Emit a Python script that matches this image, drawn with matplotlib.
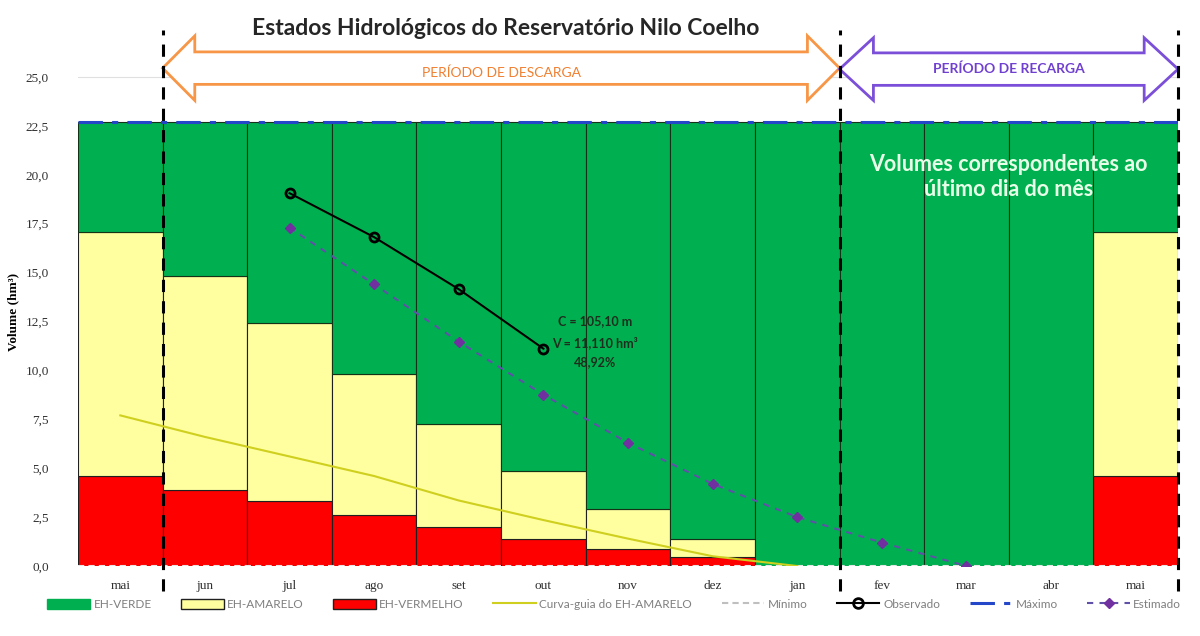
import matplotlib
matplotlib.use("Agg")
import matplotlib.pyplot as plt
from matplotlib.patches import Polygon, Patch
from matplotlib.lines import Line2D
from matplotlib.ticker import FuncFormatter
import numpy as np

# dados
meses = ["mai", "jun", "jul", "ago", "set", "out", "nov", "dez", "jan", "fev", "mar", "abr", "mai"]
limite_vermelho = [4.6, 3.9, 3.3, 2.6, 2.0, 1.4, 0.87, 0.45, 0, 0, 0, 0, 4.6]
limite_amarelo = [17.05, 14.85, 12.4, 9.8, 7.24, 4.88, 2.93, 1.38, 0, 0, 0, 0, 17.05]
volume_maximo = 22.71
volume_minimo = 0.0

curva_guia_idx = [0, 1, 2, 3, 4, 5, 6, 7, 8]
curva_guia = [7.7, 6.6, 5.6, 4.6, 3.35, 2.35, 1.4, 0.5, 0.0]

observado_idx = [2, 3, 4, 5]
observado = [19.06, 16.81, 14.15, 11.11]

estimado_idx = [2, 3, 4, 5, 6, 7, 8, 9, 10]
estimado = [17.3, 14.4, 11.47, 8.76, 6.3, 4.2, 2.5, 1.2, 0.0]

VERDE = "#00B050"
AMARELO = "#FFFF9F"
VERMELHO = "#FF0000"
SERIF = "Liberation Serif"
SANS = "Lato"

fig = plt.figure(figsize=(12, 6.36), dpi=100)
ax = fig.add_axes([0.065, 0.110, 0.9167, 0.849])

x = np.arange(len(meses))
vermelho = np.array(limite_vermelho)
amarelo = np.array(limite_amarelo)
verde_topo = np.full(len(meses), volume_maximo)

ax.bar(x, vermelho, width=1.0, color=VERMELHO, edgecolor="#202020", linewidth=0.8, zorder=2)
ax.bar(x, amarelo - vermelho, bottom=vermelho, width=1.0, color=AMARELO,
       edgecolor="#202020", linewidth=0.8, zorder=2)
ax.bar(x, verde_topo - amarelo, bottom=amarelo, width=1.0, color=VERDE,
       edgecolor="#163216", linewidth=0.8, zorder=2)

# linhas de referencia
ax.plot([-0.5, 12.5], [volume_minimo, volume_minimo], color="#E6E6E6", lw=1.5,
        ls=(0, (3, 2)), zorder=3)
ax.plot([-0.5, 12.5], [volume_maximo, volume_maximo], color="#2446C8", lw=2.2,
        ls=(0, (8, 3, 2, 3)), zorder=3)

ax.plot(curva_guia_idx, curva_guia, color="#CFCF1F", lw=1.5, zorder=4)
ax.plot(estimado_idx, estimado, color="#6050A8", lw=1.5, ls=(0, (3, 3)),
        marker="D", ms=5, mfc="#7030A0", mec="#7030A0", zorder=5)
ax.plot(observado_idx, observado, color="black", lw=1.5, marker="o", ms=6.5,
        mfc="none", mec="black", mew=2, zorder=6)

# divisores dos periodos
for xv in [0.5, 8.5, 12.5]:
    ax.plot([xv, xv], [-1.3, 27.4], color="black", lw=2.2, ls=(0, (4, 3)),
            zorder=7, clip_on=False)

# setas dos periodos
def seta(x0, x1, cab, y_meio, y_cab, y_haste, cor):
    pts = [(x0, y_meio), (x0 + cab, y_meio + y_cab), (x0 + cab, y_meio + y_haste),
           (x1 - cab, y_meio + y_haste), (x1 - cab, y_meio + y_cab), (x1, y_meio),
           (x1 - cab, y_meio - y_cab), (x1 - cab, y_meio - y_haste),
           (x0 + cab, y_meio - y_haste), (x0 + cab, y_meio - y_cab)]
    ax.add_patch(Polygon(pts, closed=True, facecolor="white", edgecolor=cor,
                         lw=2, zorder=6, clip_on=False))

seta(0.5, 8.5, 0.38, 25.45, 1.65, 0.83, "#F79646")
seta(8.5, 12.5, 0.4, 25.4, 1.6, 0.83, "#7B4FD8")
ax.text(4.5, 25.2, "PERÍODO DE DESCARGA", ha="center", va="center", fontsize=10,
        color="#F07F30", family=SANS, zorder=8)
ax.text(10.5, 25.4, "PERÍODO DE RECARGA", ha="center", va="center", fontsize=10,
        color="#7040D0", family=SANS, fontweight="bold", zorder=8)

ax.text(10.5, 19.9, "Volumes correspondentes ao\núltimo dia do mês", ha="center",
        va="center", fontsize=15.5, color="#E8FFE8", family=SANS, fontweight="bold",
        linespacing=1.25, zorder=8)
ax.text(5.61, 11.46, "C = 105,10 m\nV = 11,110 hm³\n48,92%", ha="center",
        va="center", fontsize=9, color="#1E2E1E", family=SANS, fontweight="bold",
        linespacing=1.75, zorder=8)

# eixos
ax.set_xlim(-0.5, 12.5)
ax.set_ylim(0, 27.6)
ax.set_yticks(np.arange(0, 25.1, 2.5))
ax.yaxis.set_major_formatter(FuncFormatter(lambda v, p: f"{v:.1f}".replace(".", ",")))
ax.set_xticks(x)
ax.set_xticklabels(meses)
for lab in ax.get_xticklabels() + ax.get_yticklabels():
    lab.set_family(SERIF)
    lab.set_fontsize(9.5)
    lab.set_color("#303030")
ax.tick_params(length=0, pad=10)
ax.tick_params(axis="y", pad=21)
ax.grid(axis="y", color="#E0E0E0", lw=0.8, zorder=0)
ax.set_axisbelow(True)
for s in ax.spines.values():
    s.set_visible(False)
ax.set_ylabel("Volume (hm³)", family=SERIF, fontweight="bold", fontsize=9.5)
ax.yaxis.set_label_coords(-0.053, 0.47)

fig.text(0.421, 0.955, "Estados Hidrológicos do Reservatório Nilo Coelho", ha="center",
         va="center", fontsize=16.5, fontweight="bold", family=SANS, color="#262626")

handles = [
    Patch(facecolor=VERDE, edgecolor=VERDE, label="EH-VERDE"),
    Patch(facecolor=AMARELO, edgecolor="#202020", label="EH-AMARELO"),
    Patch(facecolor=VERMELHO, edgecolor="#202020", label="EH-VERMELHO"),
    Line2D([], [], color="#CFCF1F", lw=1.5, label="Curva-guia do EH-AMARELO"),
    Line2D([], [], color="#BFBFBF", lw=1.5, ls=(0, (3, 2)), label="Mínimo"),
    Line2D([], [], color="black", lw=1.5, marker="o", ms=7, mfc="none", mew=2,
           label="Observado"),
    Line2D([], [], color="#2446C8", lw=2.2, ls=(0, (8, 3, 2, 3)), label="Máximo"),
    Line2D([], [], color="#6050A8", lw=1.5, ls=(0, (3, 3)), marker="D", ms=5,
           mfc="#7030A0", mec="#7030A0", label="Estimado"),
]
leg = fig.legend(handles=handles, loc="center", bbox_to_anchor=(0.512, 0.05), ncol=8,
                 frameon=False, fontsize=8.5, handlelength=3.6, handleheight=1.0,
                 columnspacing=2.5, handletextpad=0.3)
for t in leg.get_texts():
    t.set_color("#7F7F7F")
    t.set_family(SANS)

fig.savefig("out.png", dpi=100)
